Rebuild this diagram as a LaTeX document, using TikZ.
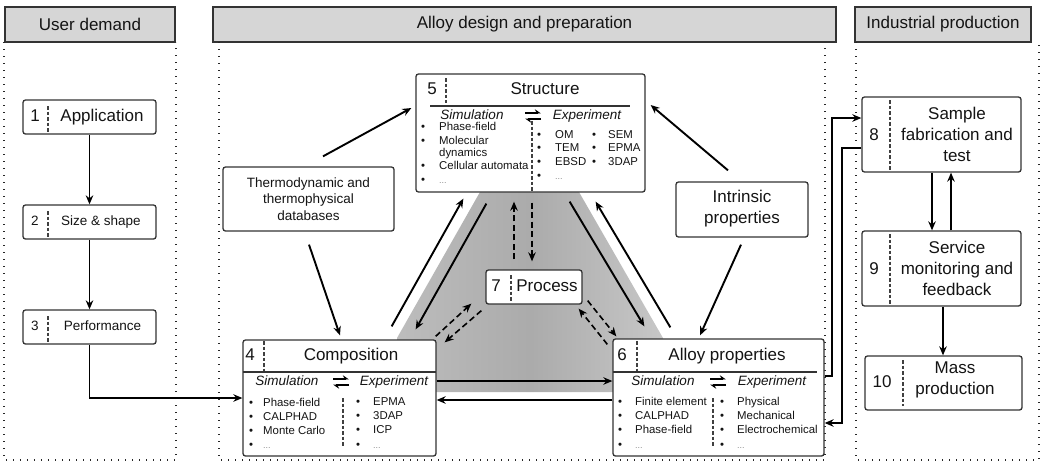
\documentclass[tikz,border=0pt]{standalone}
\usepackage{fontspec}
\setmainfont{Liberation Sans}
\usetikzlibrary{arrows.meta,calc}
\definecolor{edgec}{HTML}{333333}
\definecolor{txtc}{HTML}{141414}
\definecolor{hdrc}{HTML}{D6D6D6}
\newcommand\fsz[2]{\fontsize{#1}{#2}\selectfont}
\tikzset{
  box/.style={draw=edgec, line width=1.3pt, rounded corners=2.5pt, fill=white, inner sep=0pt},
  hdrbox/.style={draw=black!80, line width=1.3pt, fill=hdrc, inner sep=0pt, minimum height=35pt, font=\fsz{17}{20}, text=txtc},
  colline/.style={line width=1.4pt, black!85, dash pattern=on 1.4pt off 5.6pt},
  divline/.style={black!75, line width=1.1pt, dash pattern=on 3.5pt off 2pt},
  ruleline/.style={edgec, line width=1.3pt},
  arr/.style={line width=1.9pt, black, -{Stealth[length=9pt,width=7.5pt]}},
  darr/.style={line width=1.6pt, black, dash pattern=on 6pt off 3.5pt, -{Stealth[length=9pt,width=7.5pt]}},
  bigt/.style={font=\fsz{17}{21}, text=txtc, inner sep=0pt, text height=12.5pt, text depth=3.5pt},
  bigm/.style={font=\fsz{17}{21}, text=txtc, inner sep=0pt, align=center},
  midt/.style={font=\fsz{13.5}{16.5}, text=txtc, inner sep=0pt, text height=10pt, text depth=2.8pt},
  midm/.style={font=\fsz{13.5}{16.5}, text=txtc, inner sep=0pt, align=center},
  headt/.style={font=\fsz{13.5}{16}\itshape, text=txtc, inner sep=0pt, text height=10pt, text depth=2.8pt},
  itemt/.style={font=\fsz{11.4}{14}, text=txtc, inner sep=0pt, anchor=west, text height=8.5pt, text depth=2.5pt},
  bult/.style={font=\fsz{11.4}{14}, text=txtc, inner sep=0pt, text height=8.5pt, text depth=2.5pt},
  dotst/.style={font=\fsz{9}{11}, text=black!45, inner sep=0pt, anchor=west, text height=8.5pt, text depth=2.5pt},
  harp/.pic={
    \draw[line width=1.4pt, -{Stealth[harpoon,length=5.5pt,width=7.5pt]}] (-8,-3) -- (8,-3);
    \draw[line width=1.4pt, -{Stealth[harpoon,length=5.5pt,width=7.5pt]}] (8,3) -- (-8,3);
  },
}
\begin{document}
\begin{tikzpicture}[x=1pt,y=-1pt]
\useasboundingbox (0,0) rectangle (1042,464);
% grey process area
\shade[left color=black!26, right color=black!22, middle color=black!33]
  (480,192) -- (579,192) -- (663,338) -- (663,392) -- (397,392) -- (397,338) -- cycle;
% headers
\node[hdrbox, minimum width=170pt] (hU) at (90,24.5) {User demand};
\node[hdrbox, minimum width=623pt] (hA) at (524.5,24.5) {Alloy design and preparation};
\node[hdrbox, minimum width=176pt] (hI) at (943,24.5) {Industrial production};
% column borders
\draw[colline] (4,42) -- (4,460) -- (176,460) -- (176,42);
\draw[colline] (219,42) -- (219,460) -- (825,460) -- (825,42);
\draw[colline] (856,42) -- (856,460) -- (1039,460) -- (1039,42);
% left column
\node[box, minimum width=133pt, minimum height=34pt] (b1) at (89.5,117) {};
\node[bigt] (n1) at (35,117) {1};
\draw[divline] (48,106) -- (48,132);
\node[bigt] (t1) at (102,117) {Application};
\node[box, minimum width=133pt, minimum height=34pt] (b2) at (89.5,222) {};
\node[midt] (n2) at (35,222) {2};
\draw[divline] (48,211) -- (48,237);
\node[midt] (t2) at (101,222) {Size \& shape};
\node[box, minimum width=133pt, minimum height=34pt] (b3) at (89.5,327) {};
\node[midt] (n3) at (35,327) {3};
\draw[divline] (48,316) -- (48,342);
\node[midt] (t3) at (102.5,327) {Performance};
% structure
\node[box, minimum width=229pt, minimum height=118pt] (b5) at (530.5,133) {};
\node[bigt] (n5) at (432,90) {5};
\draw[divline] (446,78) -- (446,103);
\node[bigt] (t5) at (545,90) {Structure};
\draw[ruleline] (430,106) -- (630,106);
\node[headt] (s5) at (472,116) {Simulation};
\pic (h5) at (533,116) {harp};
\node[headt] (e5) at (587,116) {Experiment};
\draw[divline] (532,121) -- (532,192);
\node[bult] (b5a) at (423,127) {\textbullet};
\node[itemt] (i5a) at (439,127) {Phase-field};
\node[bult] (b5b) at (423,141) {\textbullet};
\node[itemt] (i5b) at (439,141) {Molecular};
\node[itemt] (i5c) at (439,153) {dynamics};
\node[bult] (b5d) at (423,166) {\textbullet};
\node[itemt] (i5d) at (439,166) {Cellular automata};
\node[bult] (b5e) at (423,180) {\textbullet};
\node[dotst] (i5e) at (439,180) {...};
\node[bult] (x5a) at (539,135) {\textbullet};
\node[itemt] (j5a) at (555,135) {OM};
\node[bult] (x5b) at (539,148) {\textbullet};
\node[itemt] (j5b) at (555,148) {TEM};
\node[bult] (x5c) at (539,162) {\textbullet};
\node[itemt] (j5c) at (555,162) {EBSD};
\node[bult] (x5d) at (539,176) {\textbullet};
\node[dotst] (j5d) at (555,176) {...};
\node[bult] (y5a) at (594,135) {\textbullet};
\node[itemt] (k5a) at (608,135) {SEM};
\node[bult] (y5b) at (594,148) {\textbullet};
\node[itemt] (k5b) at (608,148) {EPMA};
\node[bult] (y5c) at (594,162) {\textbullet};
\node[itemt] (k5c) at (608,162) {3DAP};
% composition
\node[box, minimum width=193pt, minimum height=116pt] (b4) at (339.5,398) {};
\node[bigt] (n4) at (250,356) {4};
\draw[divline] (264,341) -- (264,371);
\node[bigt] (t4) at (351,356) {Composition};
\draw[ruleline] (243,372) -- (436,372);
\node[headt] (s4) at (287,382) {Simulation};
\pic (h4) at (341,382) {harp};
\node[headt] (e4) at (394,382) {Experiment};
\draw[divline] (343,398) -- (343,446);
\node[bult] (b4a) at (251,403) {\textbullet};
\node[itemt] (i4a) at (263,403) {Phase-field};
\node[bult] (b4b) at (251,417) {\textbullet};
\node[itemt] (i4b) at (263,417) {CALPHAD};
\node[bult] (b4c) at (251,431) {\textbullet};
\node[itemt] (i4c) at (263,431) {Monte Carlo};
\node[bult] (b4d) at (251,445) {\textbullet};
\node[dotst] (i4d) at (263,445) {...};
\node[bult] (x4a) at (358,402) {\textbullet};
\node[itemt] (j4a) at (373,402) {EPMA};
\node[bult] (x4b) at (358,416) {\textbullet};
\node[itemt] (j4b) at (373,416) {3DAP};
\node[bult] (x4c) at (358,430) {\textbullet};
\node[itemt] (j4c) at (373,430) {ICP};
\node[bult] (x4d) at (358,445) {\textbullet};
\node[dotst] (j4d) at (373,445) {...};
% alloy properties
\node[box, minimum width=211pt, minimum height=117pt] (b6) at (718.5,397.5) {};
\node[bigt] (n6) at (622,356) {6};
\draw[divline] (637,341) -- (637,371);
\node[bigt] (t6) at (727,356) {Alloy properties};
\draw[ruleline] (613,372) -- (817,372);
\node[headt] (s6) at (663,382) {Simulation};
\pic (h6) at (718,382) {harp};
\node[headt] (e6) at (772,382) {Experiment};
\draw[divline] (713,398) -- (713,446);
\node[bult] (b6a) at (620,402) {\textbullet};
\node[itemt] (i6a) at (635,402) {Finite element};
\node[bult] (b6b) at (620,416) {\textbullet};
\node[itemt] (i6b) at (635,416) {CALPHAD};
\node[bult] (b6c) at (620,430) {\textbullet};
\node[itemt] (i6c) at (635,430) {Phase-field};
\node[bult] (b6d) at (620,445) {\textbullet};
\node[dotst] (i6d) at (635,445) {...};
\node[bult] (x6a) at (722,402) {\textbullet};
\node[itemt] (j6a) at (737,402) {Physical};
\node[bult] (x6b) at (722,416) {\textbullet};
\node[itemt] (j6b) at (737,416) {Mechanical};
\node[bult] (x6c) at (722,430) {\textbullet};
\node[itemt] (j6c) at (737,430) {Electrochemical};
\node[bult] (x6d) at (722,445) {\textbullet};
\node[dotst] (j6d) at (737,445) {...};
% process
\node[box, minimum width=96pt, minimum height=34pt] (b7) at (534,287) {};
\node[bigt] (n7) at (496,287) {7};
\draw[divline] (511,275) -- (511,301);
\node[bigt] (t7) at (547,287) {Process};
% side boxes
\node[box, minimum width=171pt, minimum height=64pt] (th) at (308.5,199) {};
\node[midm] (tht) at (308.5,199) {Thermodynamic and\\thermophysical\\databases};
\node[box, minimum width=132pt, minimum height=55pt] (ip) at (742,209.5) {};
\node[bigm] (ipt) at (742,208.5) {Intrinsic\\properties};
% right column
\node[box, minimum width=159pt, minimum height=75pt] (b8) at (941.5,134.5) {};
\node[bigt] (n8) at (874,136) {8};
\draw[divline] (890,100) -- (890,170);
\node[bigm] (t8) at (957,134.5) {Sample\\fabrication and\\test};
\node[box, minimum width=159pt, minimum height=75pt] (b9) at (941.5,268.5) {};
\node[bigt] (n9) at (874,270) {9};
\draw[divline] (890,234) -- (890,304);
\node[bigm] (t9) at (957,268.5) {Service\\monitoring and\\feedback};
\node[box, minimum width=157pt, minimum height=54pt] (b10) at (943.5,383) {};
\node[bigt] (n10) at (882,383) {10};
\draw[divline] (903,360) -- (903,406);
\node[bigm] (t10) at (955,380) {Mass\\production};
% connectors: left column
\draw[arr] (b1.south) -- (b2.north);
\draw[arr] (b2.south) -- (b3.north);
\draw[arr] (b3.south) |- (b4.west);
% composition <-> alloy
\draw[arr] (b4.east |- 0,381) -- (b6.west |- 0,381);
\draw[arr] (b6.west |- 0,400) -- (b4.east |- 0,400);
% databases and intrinsic
\draw[arr] ([shift={(14.5,-10)}]th.north) -- ([shift={(-4,-25)}]b5.west);
\draw[arr] ([shift={(0.5,13)}]th.south) -- ([shift={(0.5,-4)}]b4.north);
\draw[arr] ([shift={(-14,-11)}]ip.north) -- ([shift={(5,-28)}]b5.east);
\draw[arr] ([shift={(-1,7)}]ip.south) -- ([shift={(-18.5,-3)}]b6.north);
% triangle solid
\draw[arr] ([shift={(-45,-13)}]b4.north east) -- ([shift={(48,6)}]b5.south west);
\draw[arr] ([shift={(71,11)}]b5.south west) -- ([shift={(-21,-10)}]b4.north east);
\draw[arr] ([shift={(-76,9)}]b5.south east) -- ([shift={(32,-12)}]b6.north west);
\draw[arr] ([shift={(58,-11)}]b6.north west) -- ([shift={(-50,9)}]b5.south east);
% dashed to/from process
\draw[darr] ([shift={(-20,-10)}]b7.north) -- ([shift={(-16.5,9)}]b5.south);
\draw[darr] ([shift={(1.5,10)}]b5.south) -- ([shift={(-2,-8)}]b7.north);
\draw[darr] ([shift={(-1,-3)}]b4.north east) -- ([shift={(-14,-1)}]b7.south west);
\draw[darr] ([shift={(-4,6)}]b7.south west) -- ([shift={(8,3)}]b4.north east);
\draw[darr] ([shift={(5,-4)}]b7.south east) -- ([shift={(4,-2)}]b6.north west);
\draw[darr] ([shift={(-5,6)}]b6.north west) -- ([shift={(-4,4)}]b7.south east);
% alloy <-> sample fabrication
\draw[arr] (b6.east |- 0,376) -- ++(7,0) |- (b8.west |- 0,118);
\draw[arr] (b8.west |- 0,148) -- ++(-19,0) |- (b6.east |- 0,423);
% right column
\draw[arr] (b8.south -| 932,0) -- (b9.north -| 932,0);
\draw[arr] (b9.north -| 951,0) -- (b8.south -| 951,0);
\draw[arr] (b9.south -| 943,0) -- (b10.north -| 943,0);
\end{tikzpicture}
\end{document}
